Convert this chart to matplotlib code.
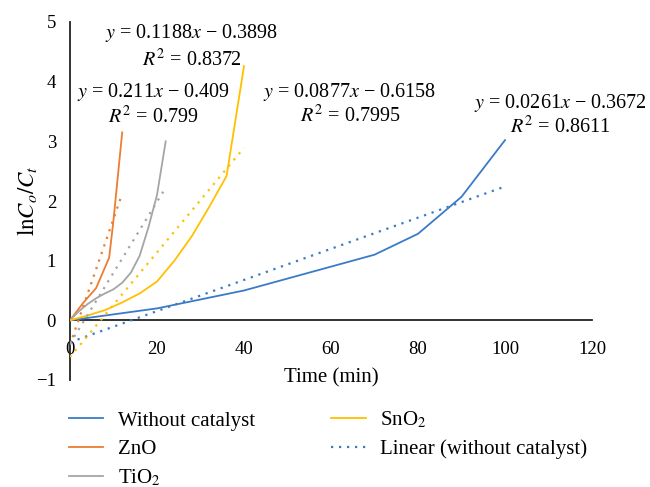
import numpy as np
import matplotlib
matplotlib.use('agg')
import matplotlib.pyplot as plt

plt.rcParams['font.family'] = ['Liberation Serif', 'DejaVu Serif']
plt.rcParams['mathtext.fontset'] = 'stix'

# data
t_blank = [0, 10, 20, 30, 40, 50, 60, 70, 80, 90, 100]
y_blank = [0, 0.1, 0.2, 0.35, 0.5, 0.7, 0.9, 1.1, 1.45, 2.07, 3.02]
t_zno = [0, 3, 6, 9, 10, 12]
y_zno = [0, 0.29, 0.54, 1.05, 1.68, 3.15]
t_tio2 = [0, 2, 4, 6, 8, 10, 12, 14, 16, 18, 20, 22]
y_tio2 = [0, 0.15, 0.27, 0.37, 0.45, 0.52, 0.63, 0.8, 1.08, 1.55, 2.1, 3.0]
t_sno2 = [0, 4, 8, 12, 16, 20, 24, 28, 32, 36, 40]
y_sno2 = [0, 0.08, 0.17, 0.3, 0.45, 0.65, 1.0, 1.41, 1.9, 2.42, 4.26]

# trendline coefficients as printed on the chart
fits = {
    'blank': (0.0261, -0.3672, 0.8611),
    'zno': (0.211, -0.409, 0.799),
    'tio2': (0.1188, -0.3898, 0.8372),
    'sno2': (0.0877, -0.6158, 0.7995),
}

c_blue = '#3A7BC8'
c_orange = '#ED7D31'
c_gray = '#A5A5A5'
c_gold = '#FFC000'

W, H = 650, 487
fig = plt.figure(figsize=(6.5, 4.87), dpi=100)
ax = fig.add_axes([70 / W, 1 - 380 / H, 522 / W, 358 / H])

fs_tick = 13.5
fs_txt = 15
fs_eq = 14.5
series = [
    (t_blank, y_blank, c_blue, 'Without catalyst', 'blank'),
    (t_zno, y_zno, c_orange, 'ZnO', 'zno'),
    (t_tio2, y_tio2, c_gray, 'TiO$_2$', 'tio2'),
    (t_sno2, y_sno2, c_gold, 'SnO$_2$', 'sno2'),
]
handles = []
for t, y, c, lab, key in series:
    h, = ax.plot(t, y, color=c, lw=1.3, label=lab, zorder=3)
    handles.append(h)

trend_handle = None
for t, y, c, lab, key in series:
    m, b, r2 = fits[key]
    xs = np.array([t[0], t[-1]])
    h, = ax.plot(xs, m * xs + b, color=c, lw=1.6, linestyle=(0, (1, 2.6)),
                 zorder=4, label='Linear (without catalyst)')
    if key == 'blank':
        trend_handle = h

ax.set_xlim(0, 120)
ax.set_ylim(-1, 5)
ax.set_xticks(range(0, 121, 20))
ax.set_yticks(range(-1, 6))
ax.set_yticklabels(['\u22121', '0', '1', '2', '3', '4', '5'])
ax.spines['top'].set_visible(False)
ax.spines['right'].set_visible(False)
ax.spines['bottom'].set_position(('data', 0))
for s in ('left', 'bottom'):
    ax.spines[s].set_linewidth(1.3)
    ax.spines[s].set_color('#222222')
ax.tick_params(axis='x', length=0, pad=15, labelsize=fs_tick)
ax.tick_params(axis='y', length=0, pad=10, labelsize=fs_tick)
fig.text(27 / W, 1 - 201 / H, r'$\mathrm{ln}C_o/C_t$', fontsize=16.5,
         rotation=90, ha='center', va='center')
fig.text(331 / W, 1 - 378 / H, 'Time (min)', fontsize=fs_txt, ha='center', va='center')

# equation labels
labels = [
    (191.5, 33, 60, 'tio2'),
    (153.5, 92, 117, 'zno'),
    (350, 92, 116, 'sno2'),
    (560, 103, 127, 'blank'),
]
for cx, y1, y2, key in labels:
    m, b, r2 = fits[key]
    fig.text(cx / W, 1 - y1 / H, f'$y$ = {m}$x$ \u2212 {abs(b)}', fontsize=fs_eq,
             ha='center', va='center')
    fig.text(cx / W, 1 - y2 / H, f'$R^2$ = {r2}', fontsize=fs_eq,
             ha='center', va='center')

leg = fig.legend(handles + [trend_handle],
                 [h.get_label() for h in handles] + ['Linear (without catalyst)'],
                 ncol=2, loc='upper left', bbox_to_anchor=(69 / W, 1 - 410 / H),
                 frameon=False, fontsize=fs_txt, handlelength=1.65, handletextpad=0.7,
                 columnspacing=3.65, labelspacing=0.42, borderpad=0, borderaxespad=0)

fig.savefig('out.png', dpi=100)
plt.close(fig)
